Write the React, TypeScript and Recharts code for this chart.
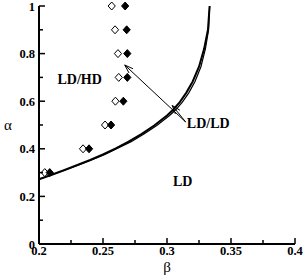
import React from "react";
import {
  ComposedChart, Scatter, XAxis, YAxis, ReferenceLine, Label,
} from "recharts";

// phase boundary, drawn as a double line
const curveBeta = [0.2, 0.21, 0.22, 0.23, 0.24, 0.25, 0.26, 0.27, 0.28, 0.29, 0.3, 0.305, 0.31, 0.315, 0.32, 0.325, 0.329, 0.332, 0.3333];
const curveAlpha = [0.272, 0.291, 0.311, 0.332, 0.353, 0.376, 0.402, 0.43, 0.462, 0.498, 0.54, 0.565, 0.596, 0.635, 0.682, 0.745, 0.82, 0.9, 1.0];
const curve2Beta = [0.2, 0.21, 0.2205, 0.231, 0.241, 0.2515, 0.2615, 0.272, 0.282, 0.292, 0.302, 0.307, 0.312, 0.317, 0.3218, 0.3265, 0.33, 0.3325, 0.3333];

// simulation points
const alphaPts = [0.3, 0.4, 0.5, 0.6, 0.7, 0.8, 0.9, 1.0];
const openBeta = [0.2045, 0.2344, 0.2516, 0.2597, 0.2623, 0.2617, 0.2594, 0.2568];
const filledBeta = [0.2084, 0.2391, 0.2563, 0.2659, 0.269, 0.269, 0.2685, 0.2673];

// region labels
const regionText = ["LD/HD", "LD/LD", "LD"];
const regionBeta = [0.2318, 0.3322, 0.3123];
const regionAlpha = [0.693, 0.508, 0.265];

// ticks
const xTicks = [0.2, 0.225, 0.25, 0.275, 0.3, 0.325, 0.35, 0.375, 0.4];
const xMajor = [0.2, 0.25, 0.3, 0.35, 0.4];
const yTicks = [0, 0.1, 0.2, 0.3, 0.4, 0.5, 0.6, 0.7, 0.8, 0.9, 1];
const yMajor = [0, 0.2, 0.4, 0.6, 0.8, 1];

const curveA = curveBeta.map((b, i) => ({ b, a: curveAlpha[i] }));
const curveB = curve2Beta.map((b, i) => ({ b, a: curveAlpha[i] }));
const openPts = alphaPts.map((a, i) => ({ b: openBeta[i], a }));
const filledPts = alphaPts.map((a, i) => ({ b: filledBeta[i], a }));
const labels = regionText.map((t, i) => ({ b: regionBeta[i], a: regionAlpha[i], t }));

const font = "'Liberation Serif', 'Times New Roman', serif";
const isMajor = (v: number, list: number[]) => list.some((m) => Math.abs(m - v) < 1e-6);
const fmt = (v: number) => String(Number(v.toFixed(3)));

const BottomTick = (p: any) => {
  const v = p.payload.value;
  const major = isMajor(v, xMajor);
  return (
    <g>
      <line x1={p.x} x2={p.x} y1={p.y} y2={p.y - (major ? 6 : 4)} stroke="#000" strokeWidth={1.5} />
      {major && (
        <text x={p.x} y={p.y} dy={10.5} textAnchor="middle" fontFamily={font} fontWeight="bold" fontSize={12.5} fill="#000">
          {fmt(v)}
        </text>
      )}
    </g>
  );
};

const TopTick = (p: any) => {
  const major = isMajor(p.payload.value, xMajor);
  return <line x1={p.x} x2={p.x} y1={p.y} y2={p.y + (major ? 5 : 4)} stroke="#000" strokeWidth={1.5} />;
};

const LeftTick = (p: any) => {
  const v = p.payload.value;
  const major = isMajor(v, yMajor);
  return (
    <g>
      <line x1={p.x} x2={p.x + (major ? 6 : 4)} y1={p.y} y2={p.y} stroke="#000" strokeWidth={1.5} />
      {major && (
        <text x={p.x - 4} y={p.y} dy={4.5} textAnchor="end" fontFamily={font} fontWeight="bold" fontSize={12.5} fill="#000">
          {fmt(v)}
        </text>
      )}
    </g>
  );
};

const RightTick = (p: any) => (
  <line x1={p.x} x2={p.x - 4} y1={p.y} y2={p.y} stroke="#000" strokeWidth={1.5} />
);

const Diamond = ({ cx, cy, filled }: any) => (
  <path
    d={`M${cx},${cy - 4}L${cx + 3.6},${cy}L${cx},${cy + 4}L${cx - 3.6},${cy}Z`}
    fill={filled ? "#000" : "#fff"}
    stroke="#000"
    strokeWidth={1}
  />
);

const NoDot = () => <g />;

const TextMark = ({ cx, cy, payload }: any) => (
  <text x={cx} y={cy} dy={5} textAnchor="middle" fontFamily={font} fontWeight="bold" fontSize={14} fill="#000">
    {payload.t}
  </text>
);

const Arrow = (p: any) => {
  const { x1, y1, x2, y2 } = p;
  const ang = Math.atan2(y1 - y2, x1 - x2);
  const len = 9;
  const spread = 0.33;
  const ax = x2 + len * Math.cos(ang + spread);
  const ay = y2 + len * Math.sin(ang + spread);
  const bx = x2 + len * Math.cos(ang - spread);
  const by = y2 + len * Math.sin(ang - spread);
  return (
    <g>
      <line x1={x1} y1={y1} x2={x2} y2={y2} stroke="#000" strokeWidth={1} />
      <path d={`M${ax},${ay}L${x2},${y2}L${bx},${by}`} fill="none" stroke="#000" strokeWidth={1} />
    </g>
  );
};

export default function App() {
  return (
    <div style={{ position: "fixed", left: 0, top: 0, background: "#fff" }}>
      <ComposedChart width={304} height={276} margin={{ top: 6, right: 9, bottom: 0, left: 0 }}>
        <XAxis
          xAxisId="bottom" dataKey="b" type="number" domain={[0.2, 0.4]} ticks={xTicks} interval={0}
          height={32} tickSize={0} tickMargin={0} tick={BottomTick} tickLine={false}
          axisLine={{ stroke: "#000", strokeWidth: 2 }}
        >
          <Label value="β" position="insideBottom" offset={4} style={{ fontFamily: font, fontSize: 15, fill: "#000" }} />
        </XAxis>
        <XAxis
          xAxisId="top" orientation="top" type="number" domain={[0.2, 0.4]} ticks={xTicks} interval={0}
          height={0} tickSize={0} tickMargin={0} tick={TopTick} tickLine={false}
          axisLine={{ stroke: "#000", strokeWidth: 2 }}
        />
        <YAxis
          yAxisId="left" dataKey="a" type="number" domain={[0, 1]} ticks={yTicks} interval={0}
          width={39} tickSize={0} tickMargin={0} tick={LeftTick} tickLine={false}
          axisLine={{ stroke: "#000", strokeWidth: 2 }}
        >
          <Label value="α" position="insideLeft" offset={4} style={{ fontFamily: font, fontSize: 15, fill: "#000" }} />
        </YAxis>
        <YAxis
          yAxisId="right" orientation="right" type="number" domain={[0, 1]} ticks={yTicks} interval={0}
          width={0} tickSize={0} tickMargin={0} tick={RightTick} tickLine={false}
          axisLine={{ stroke: "#000", strokeWidth: 2 }}
        />
        <Scatter xAxisId="bottom" yAxisId="left" data={curveA} dataKey="a" line={{ stroke: "#000", strokeWidth: 2 }} shape={NoDot} isAnimationActive={false} />
        <Scatter xAxisId="bottom" yAxisId="left" data={curveB} dataKey="a" line={{ stroke: "#000", strokeWidth: 1.2 }} shape={NoDot} isAnimationActive={false} />
        <Scatter xAxisId="bottom" yAxisId="left" data={openPts} dataKey="a" shape={(p: any) => <Diamond {...p} filled={false} />} isAnimationActive={false} />
        <Scatter xAxisId="bottom" yAxisId="left" data={filledPts} dataKey="a" shape={(p: any) => <Diamond {...p} filled />} isAnimationActive={false} />
        <ReferenceLine xAxisId="bottom" yAxisId="left" segment={[{ x: 0.3146, y: 0.5126 }, { x: 0.267, y: 0.752 }]} shape={Arrow} />
        <ReferenceLine xAxisId="bottom" yAxisId="left" segment={[{ x: 0.3146, y: 0.5126 }, { x: 0.3041, y: 0.582 }]} shape={Arrow} />
        <Scatter xAxisId="bottom" yAxisId="left" data={labels} dataKey="a" shape={TextMark} isAnimationActive={false} />
      </ComposedChart>
    </div>
  );
}
